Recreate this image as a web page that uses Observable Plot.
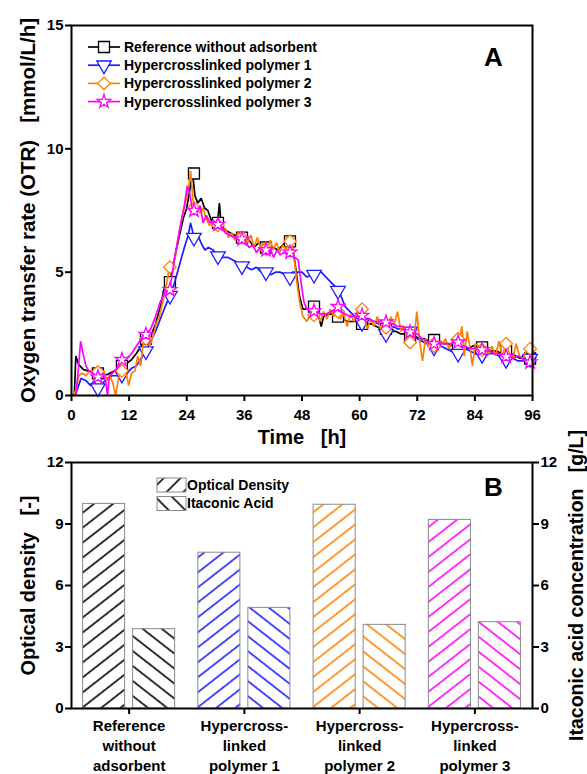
<!DOCTYPE html>
<html><head><meta charset="utf-8">
<script src="https://cdn.jsdelivr.net/npm/d3@7"></script>
<script src="https://cdn.jsdelivr.net/npm/@observablehq/plot@0.6"></script>
<style>
html,body{margin:0;padding:0;background:#fff;}
#wrap{position:relative;width:587px;height:774px;overflow:hidden;}
#wrap svg{display:block;}
</style></head><body><div id="wrap"></div>
<script>
const FONT = '"Liberation Sans", Arial, Helvetica, sans-serif';

// ---------------- Panel A data ----------------
const xTicksA = [0, 12, 24, 36, 48, 60, 72, 84, 96];
const yTicksA = [0, 5, 10, 15];
const seriesNames = ["Reference without adsorbent", "Hypercrosslinked polymer 1", "Hypercrosslinked polymer 2", "Hypercrosslinked polymer 3"];
const seriesColors = ["#000000", "#1c1cff", "#ff8000", "#ff00ff"];
const seriesSymbols = ["square", "triangle", "diamond2", "star"];

// [time h, OTR mmol/L/h]
const refOTR = [[0,0],[0.6,0.05],[0.9,1.6],[1.5,1.25],[2.5,1.05],[3.5,1.0],[4.5,0.95],[5.5,0.9],[6.5,0.85],[7.5,0.85],[8.5,0.95],[9.5,1.05],[10.5,1.2],[11.5,1.3],[12.5,1.45],[13.5,1.7],[14.5,2.0],[15.5,2.3],[16.5,2.4],[17.5,2.9],[18.5,3.6],[19.5,4.5],[20.5,4.6],[21.5,5.6],[22.5,6.5],[23.3,7.2],[24.0,7.6],[24.6,8.3],[25.2,9.05],[25.7,8.1],[26.3,7.8],[27.0,8.0],[27.7,7.6],[28.4,7.5],[29.1,7.1],[29.8,7.2],[30.4,7.0],[30.8,7.8],[31.2,6.8],[32,6.7],[33,6.6],[34,6.5],[35,6.4],[36,6.5],[37,6.3],[38,6.0],[39,6.2],[40,6.0],[41,6.1],[42,6.0],[43,5.9],[44,6.1],[45,6.3],[46,6.1],[46.8,5.0],[47.5,4.0],[48.2,3.5],[49,3.5],[50,3.6],[50.8,3.3],[51.5,3.2],[52.0,2.8],[52.5,3.2],[53.5,3.3],[54.5,3.3],[55.5,3.2],[56.5,3.1],[57.5,3.0],[58.5,3.0],[59.5,3.0],[60.5,2.9],[61.5,2.9],[62.5,2.9],[63.5,2.8],[64.5,2.7],[65.5,2.7],[66.5,2.6],[67.5,2.6],[68.5,2.5],[69.5,2.5],[70.5,2.4],[71.5,2.4],[72.5,2.3],[73.5,2.3],[74.5,2.2],[75.5,2.25],[76.5,2.2],[77.5,2.1],[78.5,2.1],[79.5,2.0],[80.5,2.0],[81.5,2.0],[82.5,1.9],[83.5,2.0],[84.5,2.05],[85.5,1.95],[86.5,1.9],[87.5,1.8],[88.5,1.8],[89.5,1.7],[90.5,1.8],[91.5,1.7],[92.5,1.6],[93.5,1.5],[94.5,1.7],[95.5,1.5],[96,1.5]];

const hcp1OTR = [[0.8,0],[1.3,0.3],[2.0,0.7],[3.0,0.6],[4.0,0.4],[4.7,0.6],[5.5,0.25],[6.5,0.5],[7.5,0.7],[8.5,0.8],[9.5,0.8],[10.5,0.85],[11.5,0.9],[12.5,1.1],[13.5,1.2],[14.5,1.5],[15.5,1.8],[16.5,2.2],[17.5,2.6],[18.5,3.1],[19.5,3.6],[20.5,4.05],[21.5,4.6],[22.5,5.3],[23.5,6.0],[24.3,6.5],[24.8,7.0],[25.5,6.4],[26.5,6.4],[27.2,6.1],[27.8,5.9],[28.5,6.0],[29.5,5.9],[30.5,5.65],[31.5,5.6],[32.5,5.6],[33.5,5.5],[34.5,5.4],[35.5,5.25],[36.5,5.2],[37.5,5.1],[38.5,5.2],[39.5,5.0],[40.5,5.0],[41.5,4.9],[42.5,5.0],[43.5,5.0],[44.5,4.9],[45.3,4.7],[46,5.0],[47,5.0],[48,5.0],[49,4.8],[50,4.9],[51,5.0],[52,5.0],[53,4.8],[54,4.6],[55,4.4],[56,4.1],[57,3.6],[58,3.4],[59,3.2],[60,2.95],[61,3.0],[62,3.1],[63,3.0],[64,2.9],[65,2.6],[66,2.5],[67,2.8],[68,2.7],[69,2.7],[70,2.6],[71,2.5],[72,2.3],[73,2.2],[74,2.1],[75,2.0],[76,1.95],[77,2.0],[78,1.9],[79,1.8],[80,1.7],[81,1.8],[82,1.9],[83,1.8],[84,1.7],[85,1.65],[86,1.6],[87,1.7],[88,1.7],[89,1.6],[90,1.45],[91,1.5],[92,1.5],[93,1.4],[94,1.4],[95,1.5],[96,1.5]];

const hcp2OTR = [[0.5,0],[1.0,0.3],[1.5,0.8],[2.2,0.9],[3.0,0.8],[3.8,1.0],[4.5,0.8],[5.2,1.0],[6.0,0.9],[6.7,1.0],[7.4,0.6],[8.0,0.8],[8.6,0.5],[9.2,0.0],[9.8,0.7],[10.5,1.0],[11.2,1.1],[11.9,0.4],[12.5,0.9],[13.2,1.0],[13.8,1.6],[14.4,1.2],[15.0,2.2],[15.6,2.3],[16.3,2.0],[17.0,2.4],[17.6,2.9],[18.3,3.2],[19.0,3.8],[19.6,4.3],[20.3,5.1],[21.0,5.3],[21.6,5.6],[22.3,6.5],[23.0,7.2],[23.7,7.8],[24.3,8.3],[24.8,9.1],[25.3,7.9],[26.0,7.7],[26.7,7.4],[27.4,7.6],[28.0,7.2],[28.7,6.9],[29.4,7.0],[30.0,6.7],[30.7,7.0],[31.4,6.7],[32.0,6.8],[32.7,6.4],[33.4,6.6],[34.0,6.3],[34.7,6.6],[35.4,6.3],[36.0,6.5],[36.7,6.2],[37.4,6.5],[38.0,6.0],[38.7,6.4],[39.4,6.0],[40.0,6.2],[40.7,5.8],[41.4,6.3],[42.0,5.9],[42.7,6.2],[43.4,5.8],[44.0,6.1],[44.7,5.9],[45.5,6.25],[46.2,5.9],[46.8,4.8],[47.5,3.8],[48.2,3.2],[49.0,3.0],[49.7,3.3],[50.4,3.1],[51.1,3.4],[51.8,3.0],[52.5,3.4],[53.2,3.1],[53.9,3.5],[54.6,3.2],[55.3,3.5],[56.0,3.1],[56.7,3.3],[57.4,2.8],[58.1,3.3],[58.8,3.0],[59.5,3.4],[60.2,3.5],[60.9,3.2],[61.6,2.7],[62.3,3.1],[63.0,2.8],[63.7,3.2],[64.4,2.7],[65.1,3.0],[65.8,2.6],[66.5,3.2],[67.2,2.9],[67.9,3.4],[68.6,2.6],[69.3,2.8],[70.0,2.2],[70.7,2.5],[71.4,2.4],[71.9,3.4],[72.5,2.2],[73.1,1.4],[73.7,2.3],[74.4,2.0],[75.1,2.3],[75.8,2.0],[76.5,2.2],[77.2,2.1],[77.9,2.3],[78.6,1.9],[79.3,2.2],[80.0,2.3],[80.6,2.1],[81.3,2.8],[81.8,1.6],[82.4,2.6],[83.0,1.9],[83.5,1.2],[84.1,2.1],[84.8,2.0],[85.5,1.85],[86.2,2.0],[86.9,1.7],[87.6,2.0],[88.3,1.6],[89.0,2.2],[89.7,1.6],[90.5,2.1],[91.2,1.7],[91.9,1.5],[92.6,2.1],[93.3,1.6],[94.0,1.5],[94.7,1.8],[95.4,1.9],[96,1.8]];

const hcp3OTR = [[0.9,0],[1.4,1.0],[1.9,2.2],[2.4,1.7],[3.0,1.2],[3.6,1.0],[4.5,0.9],[5.5,0.75],[6.5,0.9],[7.1,0.6],[7.5,0.0],[7.9,0.8],[8.5,0.9],[9.5,1.1],[10.5,1.4],[11.5,1.5],[12.5,1.7],[13.5,2.0],[14.5,2.3],[15.5,2.47],[16.5,2.7],[17.5,3.2],[18.5,3.8],[19.5,4.2],[20.5,4.3],[21.5,5.6],[22.5,6.7],[23.5,7.7],[24.1,8.5],[24.6,8.2],[25.2,7.5],[26.0,7.4],[26.8,7.7],[27.4,7.0],[28.1,7.3],[28.8,7.0],[29.5,7.1],[30.3,6.9],[31.0,6.9],[32,6.6],[33,6.5],[34,6.4],[35,6.3],[36,6.3],[37,6.0],[37.8,6.1],[38.5,5.8],[39.3,6.0],[40.0,5.9],[40.7,5.7],[41.4,5.9],[42.1,5.6],[42.8,5.9],[43.5,5.7],[44.2,5.8],[45.0,5.7],[45.8,5.8],[46.5,5.6],[47.2,5.5],[47.8,4.6],[48.4,3.8],[49.0,3.5],[50,3.4],[51,3.4],[52,3.3],[53,3.3],[54,3.4],[55,3.5],[56,3.4],[57,3.3],[58,3.2],[59,3.2],[60,3.2],[61,3.1],[62,3.1],[63,3.0],[64,3.0],[65,3.0],[66,2.9],[67,2.9],[68,2.8],[69,2.8],[70,2.6],[71,2.5],[72,2.5],[73,2.3],[74,2.2],[75,2.15],[76,2.1],[77,2.1],[78,2.1],[79,2.1],[80,2.15],[81,2.0],[82,2.0],[83,1.9],[84,1.9],[85,1.85],[86,1.8],[87,1.8],[88,1.7],[89,1.7],[90,1.6],[91,1.6],[92,1.5],[93,1.6],[94,1.5],[95,1.4],[96,1.3]];

// marker positions (every 5 h) and their OTR values per series
const markTimes = [5.5,10.5,15.5,20.5,25.5,30.5,35.5,40.5,45.5,50.5,55.5,60.5,65.5,70.5,75.5,80.5,85.5,90.5,95.5];
const refMarks  = [0.9,1.2,2.3,4.6,9.0,7.0,6.4,6.0,6.25,3.6,3.2,2.9,2.7,2.4,2.25,2.0,1.95,1.8,1.5];
const hcp1Marks = [0.3,0.85,1.8,4.05,6.4,5.65,5.25,5.0,4.8,4.9,4.25,2.95,2.5,2.6,1.95,1.7,1.65,1.45,1.5];
const hcp2Marks = [0.95,1.0,2.3,5.2,7.6,6.9,6.4,5.95,6.25,3.25,3.4,3.5,2.75,2.15,2.0,2.3,1.85,2.1,1.9];
const hcp3Marks = [0.75,1.45,2.47,4.28,7.5,6.93,6.34,5.9,5.8,3.42,3.6,3.24,2.97,2.57,2.1,2.16,1.85,1.58,1.35];

// ---------------- Panel B data ----------------
const groups = ["Reference without adsorbent", "Hypercrosslinked polymer 1", "Hypercrosslinked polymer 2", "Hypercrosslinked polymer 3"];
const groupLabels = ["Reference\nwithout\nadsorbent", "Hypercross-\nlinked\npolymer 1", "Hypercross-\nlinked\npolymer 2", "Hypercross-\nlinked\npolymer 3"];
const opticalDensity = [9.98, 7.6, 9.94, 9.2];
const itaconicAcid = [3.87, 4.91, 4.08, 4.21];
const yTicksB = [0, 3, 6, 9, 12];
const barSeries = ["Optical Density", "Itaconic Acid"];

// ---------------- helpers ----------------
const allOTR = [refOTR, hcp1OTR, hcp2OTR, hcp3OTR];
const allMarks = [refMarks, hcp1Marks, hcp2Marks, hcp3Marks];
const symR = {square: 6.2, triangle: 5.4, diamond2: 5.7, star: 4.3};
const wrap = document.getElementById("wrap");

// ---------------- Panel A ----------------
const marksA = [];
allOTR.forEach((s, i) => {
  const line = s.map(([t, v]) => ({t, v}));
  const pts = markTimes.map((t, k) => ({t, v: allMarks[i][k]}));
  marksA.push(Plot.line(line, {x: "t", y: "v", stroke: seriesColors[i], strokeWidth: 1.7, strokeLinejoin: "miter"}));
  marksA.push(Plot.dot(pts, {x: "t", y: "v", symbol: seriesSymbols[i], r: symR[seriesSymbols[i]], stroke: seriesColors[i], fill: "white", strokeWidth: 1.3, rotate: seriesSymbols[i] === "triangle" ? 180 : 0}));
});

const chartA = Plot.plot({
  width: 587, height: 450,
  marginLeft: 71, marginRight: 55, marginTop: 25, marginBottom: 55,
  style: {fontFamily: FONT, fontWeight: "bold", color: "#000", background: "#fff", overflow: "visible"},
  x: {domain: [0, 96]},
  y: {domain: [0, 15]},
  marks: [
    ...marksA,
    Plot.frame({stroke: "#000", strokeWidth: 2}),
    Plot.axisX({ticks: xTicksA, tickSize: 6, tickPadding: 8, fontSize: 15, fontWeight: "bold", label: null, strokeWidth: 2}),
    Plot.axisY({ticks: yTicksA, tickSize: 6, tickPadding: 2, fontSize: 15, fontWeight: "bold", label: null, strokeWidth: 2}),
    Plot.text(["Time\u00a0\u00a0 [h]"], {frameAnchor: "bottom", dy: 42, fontSize: 20, fontWeight: "bold", textAnchor: "middle", lineAnchor: "middle"}),
    Plot.text(["Oxygen transfer rate (OTR)\u00a0\u00a0 [mmol/L/h]"], {frameAnchor: "left", dx: -43, rotate: -90, fontSize: 20.5, fontWeight: "bold", textAnchor: "middle", lineAnchor: "middle"}),
    Plot.text(["A"], {frameAnchor: "top-right", dx: -39, dy: 32, fontSize: 26, fontWeight: "bold", textAnchor: "middle", lineAnchor: "middle"})
  ]
});
wrap.appendChild(chartA);

// legend A
{
  const svg = d3.select(chartA);
  const g = svg.append("g").attr("font-family", FONT).attr("font-weight", "bold").attr("font-size", 14).attr("text-anchor", "start");
  seriesNames.forEach((name, i) => {
    const y = 47 + i * 18.2;
    g.append("line").attr("x1", 88).attr("x2", 120).attr("y1", y).attr("y2", y).attr("stroke", seriesColors[i]).attr("stroke-width", 1.7);
    const symName = seriesSymbols[i];
    const sym = {square: d3.symbolSquare, triangle: d3.symbolTriangle, diamond2: d3.symbolDiamond2, star: d3.symbolStar}[symName];
    const r = symR[symName];
    g.append("path").attr("d", d3.symbol(sym, Math.PI * r * r)())
      .attr("transform", `translate(104,${y})` + (symName === "triangle" ? " rotate(180)" : ""))
      .attr("fill", "white").attr("stroke", seriesColors[i]).attr("stroke-width", 1.3);
    g.append("text").attr("x", 124).attr("y", y).attr("dy", "0.35em").attr("text-anchor", "start").attr("fill", "#000").text(name);
  });
}

// ---------------- Panel B ----------------
const bData = groups.map((g, i) => ({group: g, od: opticalDensity[i], ia: itaconicAcid[i], pOD: `url(#hatchOD${i})`, pIA: `url(#hatchIA${i})`}));
const labelMap = new Map(groups.map((g, i) => [g, groupLabels[i]]));

const chartB = Plot.plot({
  width: 587, height: 324,
  marginLeft: 71, marginRight: 55, marginTop: 12, marginBottom: 66,
  style: {fontFamily: FONT, fontWeight: "bold", color: "#000", background: "#fff", overflow: "visible"},
  x: {domain: groups, padding: 0, round: false},
  y: {domain: [0, 12]},
  color: {type: "identity"},
  marks: [
    Plot.barY(bData, {x: "group", y: "od", fill: "pOD", stroke: "#8a8a8a", strokeWidth: 1, insetLeft: 11.6, insetRight: 61.6}),
    Plot.barY(bData, {x: "group", y: "ia", fill: "pIA", stroke: "#8a8a8a", strokeWidth: 1, insetLeft: 61.6, insetRight: 11.6}),
    Plot.frame({stroke: "#000", strokeWidth: 2}),
    Plot.axisX({tickSize: 6, tickPadding: 2, fontSize: 15, fontWeight: "bold", label: null, strokeWidth: 2, lineHeight: 1.33, tickFormat: (d) => labelMap.get(d)}),
    Plot.axisY({ticks: yTicksB, tickSize: 6, tickPadding: 2, fontSize: 15, fontWeight: "bold", label: null, strokeWidth: 2}),
    Plot.axisY({anchor: "right", ticks: yTicksB, tickSize: 6, tickPadding: 2, fontSize: 15, fontWeight: "bold", label: null, strokeWidth: 2}),
    Plot.text(["Optical density\u00a0\u00a0 [-]"], {frameAnchor: "left", dx: -43, rotate: -90, fontSize: 20, fontWeight: "bold", textAnchor: "middle", lineAnchor: "middle"}),
    Plot.text(["Itaconic acid concentration\u00a0\u00a0 [g/L]"], {frameAnchor: "right", dx: 44, rotate: -90, fontSize: 19.5, fontWeight: "bold", textAnchor: "middle", lineAnchor: "middle"}),
    Plot.text(["B"], {frameAnchor: "top-right", dx: -39, dy: 25, fontSize: 26, fontWeight: "bold", textAnchor: "middle", lineAnchor: "middle"})
  ]
});
wrap.appendChild(chartB);

// hatch patterns + legend B
{
  const svg = d3.select(chartB);
  const defs = svg.insert("defs", ":first-child");
  const mk = (id, color, angle) => {
    const p = defs.append("pattern").attr("id", id).attr("patternUnits", "userSpaceOnUse")
      .attr("width", 12).attr("height", 11.8).attr("patternTransform", `rotate(${angle})`);
    p.append("rect").attr("width", 12).attr("height", 11.8).attr("fill", "white");
    p.append("line").attr("x1", -1).attr("x2", 13).attr("y1", 5.9).attr("y2", 5.9).attr("stroke", color).attr("stroke-width", 1.6);
  };
  seriesColors.forEach((c, i) => { mk(`hatchOD${i}`, c, -38); mk(`hatchIA${i}`, c, 38); });
  mk("hatchODleg", "#000", -45);
  mk("hatchIAleg", "#000", 45);
  const g = svg.append("g").attr("font-family", FONT).attr("font-weight", "bold").attr("font-size", 14).attr("text-anchor", "start");
  barSeries.forEach((name, i) => {
    const y = 28 + i * 18.5;
    g.append("rect").attr("x", 157).attr("y", y).attr("width", 29).attr("height", 14)
      .attr("fill", i === 0 ? "url(#hatchODleg)" : "url(#hatchIAleg)").attr("stroke", "#8a8a8a").attr("stroke-width", 1);
    g.append("text").attr("x", 187).attr("y", y + 7).attr("dy", "0.35em").attr("text-anchor", "start").attr("fill", "#000").text(name);
  });
}
</script></body></html>
